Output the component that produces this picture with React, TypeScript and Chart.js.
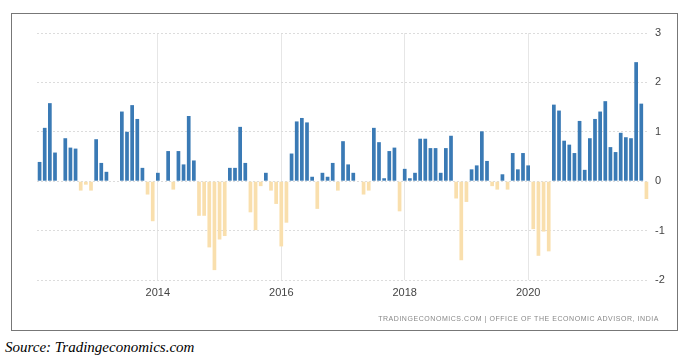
import React, { useEffect, useRef } from "react";
import { Chart, registerables } from "chart.js";

Chart.register(...registerables);

// Monthly categories, Jan 2012 .. Nov 2021
const years = [2012, 2013, 2014, 2015, 2016, 2017, 2018, 2019, 2020, 2021];
const months = years.flatMap((y) =>
  ["01", "02", "03", "04", "05", "06", "07", "08", "09", "10", "11", "12"].map((m) => `${y}-${m}`)
).slice(0, 119);

// Month-over-month change (%)
const values2012 = [0.39, 1.08, 1.58, 0.58, 0, 0.87, 0.68, 0.66, -0.19, -0.07, -0.19, 0.85];
const values2013 = [0.37, 0.19, 0, 0, 1.41, 1.0, 1.54, 1.26, 0.27, -0.27, -0.81, 0.17];
const values2014 = [0, 0.61, -0.17, 0.61, 0.34, 1.32, 0.42, -0.7, -0.7, -1.34, -1.8, -1.18];
const values2015 = [-1.11, 0.27, 0.27, 1.1, 0.37, -0.63, -0.99, -0.1, 0.17, -0.19, -0.46, -1.32];
const values2016 = [-0.84, 0.56, 1.21, 1.28, 1.19, 0.09, -0.56, 0.17, 0.09, 0.37, -0.19, 0.81];
const values2017 = [0.34, 0.17, 0, -0.27, -0.19, 1.08, 0.79, 0.06, 0.61, 0.68, -0.61, 0.25];
const values2018 = [0.06, 0.17, 0.86, 0.86, 0.67, 0.67, 0.17, 0.67, 0.92, -0.35, -1.6, -0.42];
const values2019 = [0.24, 0.32, 1.01, 0.41, -0.1, -0.17, 0.14, -0.17, 0.57, 0.24, 0.57, 0.32];
const values2020 = [-0.97, -1.51, -1.02, -1.42, 1.55, 1.43, 0.82, 0.74, 0.57, 1.22, 0.23, 0.87];
const values2021 = [1.26, 1.41, 1.62, 0.69, 0.59, 0.98, 0.89, 0.87, 2.41, 1.57, -0.36];

const values = [
  ...values2012, ...values2013, ...values2014, ...values2015, ...values2016,
  ...values2017, ...values2018, ...values2019, ...values2020, ...values2021,
];

const yTicks = [-2, -1, 0, 1, 2, 3];
const xTickYears = [2014, 2016, 2018, 2020];

const POS = "#3a7ab5";
const NEG = "#f9dfad";

// Points are dated at month end: the December bar sits on the new-year line
function yearLabelAt(index: number): string {
  const m = months[index];
  if (!m) return "";
  const [y, mm] = m.split("-");
  const next = Number(y) + 1;
  return mm === "12" && xTickYears.includes(next) ? String(next) : "";
}

export default function App() {
  const ref = useRef<HTMLCanvasElement | null>(null);

  useEffect(() => {
    if (!ref.current) return;
    const chart = new Chart(ref.current, {
      type: "bar",
      data: {
        labels: months,
        datasets: [
          {
            data: values,
            backgroundColor: values.map((v) => (v >= 0 ? POS : NEG)),
            borderWidth: 0,
            barPercentage: 0.72,
            categoryPercentage: 1,
          },
        ],
      },
      options: {
        animation: false,
        responsive: false,
        maintainAspectRatio: false,
        layout: { padding: { left: 25, right: 0, top: 19, bottom: 20 } },
        plugins: { legend: { display: false }, tooltip: { enabled: false } },
        scales: {
          x: {
            type: "category",
            offset: true,
            grid: {
              offset: false,
              drawTicks: false,
              color: (ctx: any) => (yearLabelAt(ctx.index) ? "#e6e6e6" : "rgba(0,0,0,0)"),
              lineWidth: 1,
            },
            border: { display: false },
            ticks: {
              autoSkip: false,
              maxRotation: 0,
              minRotation: 0,
              padding: 6,
              color: "#444",
              font: { family: "'Liberation Sans', Arial, sans-serif", size: 11 },
              callback: (_v: any, i: number) => yearLabelAt(i),
            },
            afterFit: (s: any) => {
              s.height = 30;
            },
          },
          y: {
            position: "right",
            min: -2,
            max: 3,
            afterBuildTicks: (s: any) => {
              s.ticks = yTicks.map((v) => ({ value: v }));
            },
            grid: { drawTicks: false, color: "#dcdcdc", lineWidth: 1 },
            border: { display: false, dash: [2, 2] },
            ticks: {
              padding: 6,
              color: "#444",
              font: { family: "'Liberation Sans', Arial, sans-serif", size: 11 },
            },
            afterFit: (s: any) => {
              s.width = 28;
            },
          },
        },
      },
    });
    return () => chart.destroy();
  }, []);

  return (
    <div style={{ position: "absolute", left: 0, top: 0, width: 688, height: 364, background: "#fff" }}>
      <div
        style={{
          position: "absolute",
          left: 11,
          top: 13,
          width: 667,
          height: 318,
          boxSizing: "border-box",
          border: "1.5px solid #777",
        }}
      />
      <canvas
        ref={ref}
        width={665}
        height={316}
        style={{ position: "absolute", left: 12, top: 14, width: 665, height: 316 }}
      />
      <div
        style={{
          position: "absolute",
          right: 29,
          top: 315,
          fontFamily: "'Liberation Sans', Arial, sans-serif",
          fontSize: 7,
          lineHeight: 1,
          letterSpacing: 0.55,
          color: "#888",
          whiteSpace: "nowrap",
        }}
      >
        TRADINGECONOMICS.COM | OFFICE OF THE ECONOMIC ADVISOR, INDIA
      </div>
      <div
        style={{
          position: "absolute",
          left: 5,
          top: 340,
          fontFamily: "'Liberation Serif', 'Times New Roman', serif",
          fontStyle: "italic",
          fontSize: 15,
          lineHeight: 1,
          color: "#000",
          whiteSpace: "nowrap",
        }}
      >
        Source: Tradingeconomics.com
      </div>
    </div>
  );
}
